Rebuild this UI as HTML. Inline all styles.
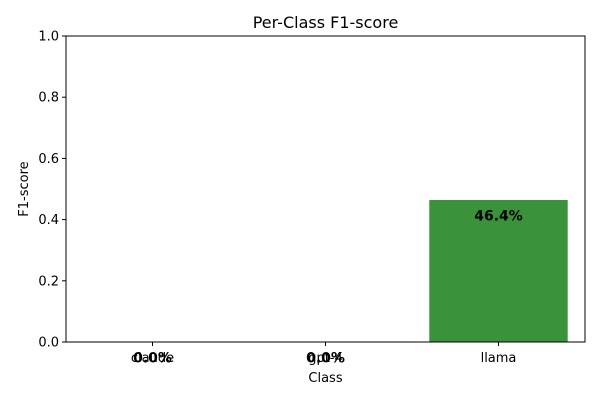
<!DOCTYPE html>
<html><head><meta charset="utf-8"><style>
body{margin:0;background:#fff}
svg text{font-family:"DejaVu Sans","Liberation Sans",sans-serif}
</style></head><body>
<svg id="chart" width="600" height="400" xmlns="http://www.w3.org/2000/svg">
<text x="325.5" y="28" font-size="16" text-anchor="middle">Per-Class F1-score</text>
<g id="plot"></g>
<rect x="66" y="36" width="519" height="306" fill="none" stroke="#000" stroke-width="1"/>
<text x="325.5" y="382" font-size="13" text-anchor="middle">Class</text>
<text transform="translate(28,189) rotate(-90)" font-size="13" text-anchor="middle">F1-score</text>
</svg>
<script>
const categories = ["claude","gpt-4","llama"];
const f1Values = [0.0, 0.0, 0.464];
const valueLabels = ["0.0%","0.0%","46.4%"];
const yTicks = [0.0,0.2,0.4,0.6,0.8,1.0];
const barColors = ["#3a923a","#3a923a","#3a923a"];

const L=66,R=585,T=36,B=342;
const xs=i=>L+(i+0.5)*(R-L)/categories.length;
const ys=v=>B-v*(B-T);
const bw=0.8*(R-L)/categories.length;
const g=document.getElementById('plot');
const NS="http://www.w3.org/2000/svg";
function mk(t,a,txt){const e=document.createElementNS(NS,t);for(const k in a)e.setAttribute(k,a[k]);if(txt!=null)e.textContent=txt;g.appendChild(e);return e;}
yTicks.forEach(v=>{
  const t=mk('line',{x1:L-4,x2:L,y1:ys(v),y2:ys(v),stroke:'#000'});
  
  
  const l=mk('text',{x:L-7,y:ys(v)+4.5,'font-size':13,'text-anchor':'end'},v.toFixed(1));
  
  
});
categories.forEach((c,i)=>{
  const b=mk('rect',{x:xs(i)-bw/2,y:ys(f1Values[i]),width:bw,height:B-ys(f1Values[i]),fill:barColors[i]});
  
  
  const t=mk('line',{x1:xs(i),x2:xs(i),y1:B,y2:B+4,stroke:'#000'});
  
  
  const l=mk('text',{x:xs(i),y:B+20,'font-size':13,'text-anchor':'middle'},c);
  
  
  const v=mk('text',{x:xs(i),y:ys(f1Values[i]-0.05)+5,'font-size':14,'font-weight':'bold','text-anchor':'middle'},valueLabels[i]);
  
  
});
</script>
</body></html>
